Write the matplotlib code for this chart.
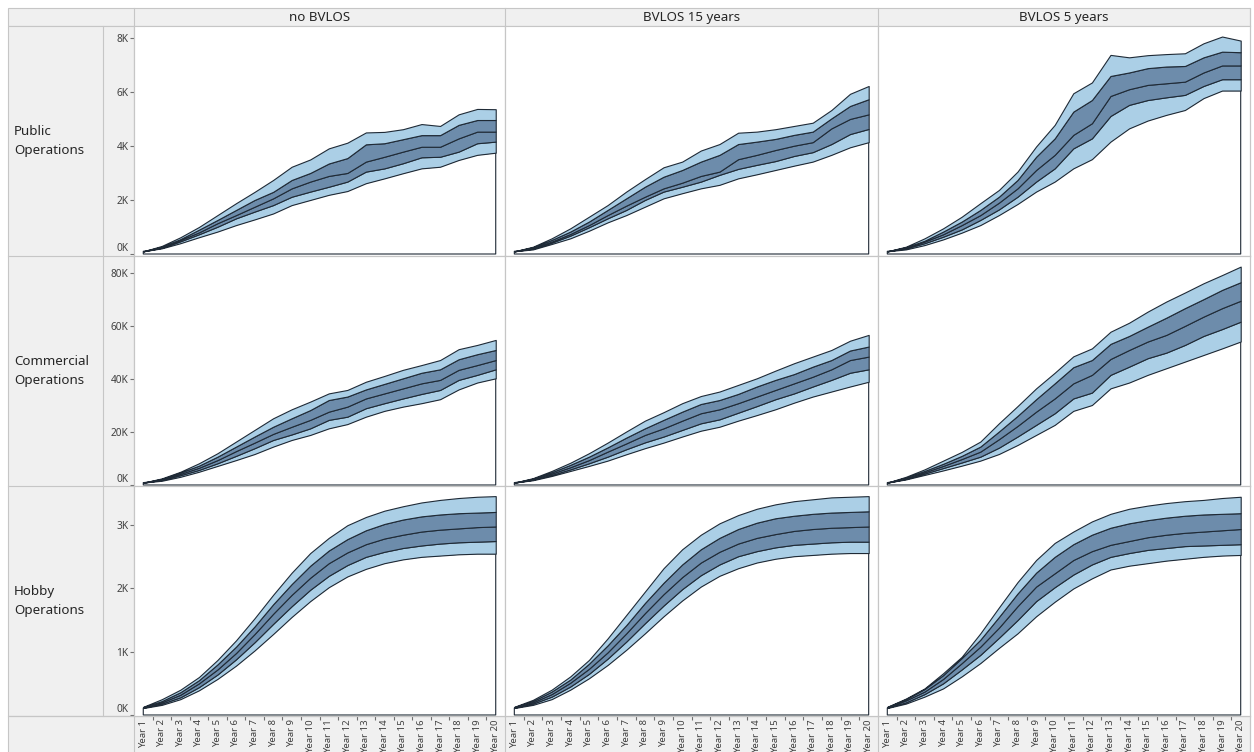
import matplotlib
matplotlib.use("Agg")
import matplotlib.pyplot as plt
from matplotlib.patches import Rectangle
from matplotlib.lines import Line2D

plt.rcParams['font.family'] = ['Noto Sans', 'DejaVu Sans']

# ---------------- data (values in thousands) ----------------
years = list(range(1, 21))
year_labels = [f"Year {y}" for y in years]
scenarios = ["no BVLOS", "BVLOS 15 years", "BVLOS 5 years"]
row_labels = ["Public\nOperations", "Commercial\nOperations", "Hobby\nOperations"]
row_ticks = [[0, 2, 4, 6, 8], [0, 20, 40, 60, 80], [0, 1, 2, 3]]

# each panel: [lower outer, lower inner, median, upper inner, upper outer]
pub_no = [
    [0.1, 0.21, 0.40, 0.62, 0.83, 1.07, 1.28, 1.50, 1.81, 2.00, 2.19, 2.33, 2.62, 2.80, 2.99, 3.17, 3.23, 3.48, 3.67, 3.75],
    [0.1, 0.23, 0.47, 0.73, 1.01, 1.32, 1.57, 1.81, 2.12, 2.31, 2.49, 2.68, 3.05, 3.17, 3.36, 3.58, 3.60, 3.79, 4.10, 4.16],
    [0.1, 0.25, 0.52, 0.80, 1.14, 1.44, 1.75, 2.06, 2.43, 2.68, 2.89, 3.00, 3.42, 3.60, 3.79, 3.97, 3.97, 4.28, 4.53, 4.53],
    [0.1, 0.27, 0.55, 0.90, 1.26, 1.63, 2.00, 2.30, 2.74, 3.00, 3.35, 3.55, 4.06, 4.10, 4.25, 4.40, 4.40, 4.78, 4.96, 4.96],
    [0.1, 0.30, 0.62, 1.00, 1.44, 1.88, 2.30, 2.74, 3.23, 3.50, 3.91, 4.12, 4.50, 4.52, 4.62, 4.81, 4.74, 5.17, 5.37, 5.36],
]
pub_15 = [
    [0.1, 0.17, 0.37, 0.58, 0.86, 1.17, 1.44, 1.75, 2.06, 2.25, 2.43, 2.56, 2.80, 2.95, 3.11, 3.27, 3.42, 3.67, 3.95, 4.14],
    [0.1, 0.20, 0.42, 0.68, 0.99, 1.32, 1.63, 2.00, 2.31, 2.49, 2.68, 2.93, 3.15, 3.30, 3.44, 3.63, 3.77, 4.07, 4.44, 4.63],
    [0.1, 0.22, 0.46, 0.74, 1.07, 1.44, 1.79, 2.12, 2.43, 2.64, 2.89, 3.05, 3.51, 3.67, 3.85, 4.01, 4.14, 4.65, 5.00, 5.17],
    [0.1, 0.25, 0.52, 0.83, 1.20, 1.63, 2.06, 2.49, 2.86, 3.11, 3.42, 3.67, 4.07, 4.16, 4.26, 4.41, 4.53, 5.02, 5.48, 5.73],
    [0.1, 0.27, 0.58, 0.95, 1.38, 1.81, 2.31, 2.77, 3.21, 3.42, 3.83, 4.07, 4.49, 4.53, 4.62, 4.74, 4.86, 5.33, 5.93, 6.22],
]
pub_5 = [
    [0.1, 0.17, 0.33, 0.54, 0.79, 1.07, 1.44, 1.85, 2.31, 2.68, 3.17, 3.51, 4.16, 4.65, 4.94, 5.15, 5.33, 5.77, 6.05, 6.05],
    [0.1, 0.21, 0.40, 0.64, 0.91, 1.26, 1.65, 2.12, 2.68, 3.17, 3.91, 4.28, 5.11, 5.52, 5.70, 5.80, 5.89, 6.22, 6.47, 6.47],
    [0.1, 0.23, 0.46, 0.73, 1.07, 1.44, 1.90, 2.43, 3.11, 3.67, 4.41, 4.84, 5.85, 6.10, 6.26, 6.32, 6.38, 6.72, 6.98, 6.98],
    [0.1, 0.25, 0.49, 0.83, 1.20, 1.63, 2.12, 2.74, 3.60, 4.28, 5.27, 5.70, 6.59, 6.72, 6.88, 6.94, 6.96, 7.28, 7.49, 7.47],
    [0.1, 0.27, 0.58, 0.95, 1.38, 1.88, 2.37, 3.05, 3.98, 4.78, 5.95, 6.35, 7.37, 7.28, 7.36, 7.40, 7.43, 7.80, 8.05, 7.90],
]
com_no = [
    [0.9, 1.6, 3.1, 5.0, 7.2, 9.4, 11.7, 14.5, 17.0, 18.9, 21.4, 23.0, 25.8, 28.0, 29.6, 30.9, 32.4, 36.1, 38.7, 40.3],
    [0.9, 1.9, 3.7, 5.7, 8.2, 11.0, 13.9, 17.0, 19.1, 21.4, 24.6, 25.8, 29.0, 30.9, 32.7, 34.4, 35.9, 39.7, 41.6, 43.7],
    [0.9, 2.0, 4.2, 6.5, 9.4, 12.8, 16.0, 19.3, 22.0, 24.6, 27.7, 29.6, 32.7, 34.6, 36.5, 38.4, 39.7, 43.5, 45.3, 47.2],
    [0.9, 2.3, 4.7, 7.3, 10.7, 14.5, 18.3, 22.0, 25.2, 28.3, 32.1, 33.4, 36.1, 38.2, 40.3, 42.4, 43.7, 47.5, 49.4, 51.0],
    [0.9, 2.5, 5.0, 8.2, 12.0, 16.4, 20.8, 25.2, 28.6, 31.5, 34.6, 35.9, 39.0, 41.2, 43.5, 45.3, 47.2, 51.3, 52.9, 54.8],
]
com_15 = [
    [0.9, 1.8, 3.4, 5.3, 7.2, 9.2, 11.6, 13.9, 16.0, 18.3, 20.5, 22.0, 24.3, 26.4, 28.6, 31.1, 33.4, 35.3, 37.2, 39.0],
    [0.9, 2.0, 3.8, 5.9, 8.2, 10.7, 13.5, 16.1, 18.3, 20.8, 23.3, 24.8, 27.3, 29.8, 32.4, 34.6, 37.2, 39.7, 42.4, 43.7],
    [0.9, 2.1, 4.3, 6.7, 9.4, 12.6, 15.7, 18.9, 21.4, 24.3, 27.1, 28.6, 30.9, 33.4, 35.9, 38.4, 40.9, 43.7, 47.2, 48.5],
    [0.9, 2.4, 4.8, 7.6, 10.7, 14.2, 17.9, 21.4, 24.6, 27.7, 30.6, 32.1, 34.4, 37.2, 39.7, 41.9, 44.7, 47.2, 50.8, 52.3],
    [0.9, 2.6, 5.3, 8.4, 12.0, 16.0, 20.2, 24.3, 27.5, 30.9, 33.6, 35.3, 37.8, 40.3, 43.2, 46.0, 48.5, 51.0, 54.5, 56.7],
]
com_5 = [
    [0.9, 2.1, 3.8, 5.5, 7.3, 9.2, 11.7, 15.1, 18.9, 22.7, 28.0, 30.2, 36.5, 38.7, 41.6, 44.1, 46.6, 49.1, 51.6, 54.2],
    [0.9, 2.3, 4.3, 6.4, 8.5, 10.7, 14.1, 18.3, 22.7, 27.1, 32.7, 34.9, 41.6, 44.7, 47.9, 50.0, 52.9, 56.3, 58.9, 61.7],
    [0.9, 2.5, 4.8, 7.2, 9.8, 12.6, 17.3, 22.3, 27.7, 32.7, 38.4, 41.6, 47.6, 51.0, 54.2, 56.7, 60.1, 63.6, 66.8, 69.6],
    [0.9, 2.8, 5.3, 8.0, 11.0, 14.5, 20.2, 26.1, 32.4, 38.4, 44.5, 47.2, 53.3, 56.3, 59.8, 63.2, 66.8, 70.2, 73.7, 76.6],
    [0.9, 3.1, 5.9, 9.2, 12.5, 16.4, 23.3, 29.8, 36.5, 42.4, 48.6, 51.6, 57.9, 61.3, 65.5, 69.3, 72.7, 76.2, 79.3, 82.5],
]
hob_no = [
    [0.11, 0.16, 0.25, 0.39, 0.57, 0.78, 1.02, 1.28, 1.55, 1.80, 2.02, 2.19, 2.31, 2.40, 2.46, 2.50, 2.52, 2.54, 2.55, 2.55],
    [0.115, 0.18, 0.28, 0.44, 0.64, 0.88, 1.15, 1.44, 1.72, 1.98, 2.20, 2.37, 2.50, 2.58, 2.64, 2.68, 2.71, 2.73, 2.74, 2.75],
    [0.12, 0.20, 0.32, 0.50, 0.72, 0.98, 1.28, 1.60, 1.90, 2.17, 2.40, 2.57, 2.70, 2.79, 2.85, 2.90, 2.93, 2.95, 2.97, 2.98],
    [0.125, 0.22, 0.36, 0.55, 0.80, 1.08, 1.40, 1.75, 2.07, 2.36, 2.60, 2.78, 2.92, 3.02, 3.09, 3.14, 3.17, 3.19, 3.20, 3.21],
    [0.13, 0.25, 0.40, 0.60, 0.87, 1.18, 1.53, 1.90, 2.25, 2.56, 2.80, 3.00, 3.13, 3.23, 3.30, 3.36, 3.40, 3.43, 3.45, 3.46],
]
hob_15 = [
    [0.11, 0.16, 0.25, 0.40, 0.58, 0.79, 1.03, 1.29, 1.56, 1.81, 2.03, 2.20, 2.32, 2.41, 2.47, 2.51, 2.53, 2.55, 2.56, 2.56],
    [0.115, 0.18, 0.29, 0.45, 0.65, 0.89, 1.16, 1.45, 1.73, 1.99, 2.21, 2.38, 2.51, 2.59, 2.65, 2.69, 2.71, 2.73, 2.74, 2.74],
    [0.12, 0.20, 0.33, 0.51, 0.73, 0.99, 1.29, 1.61, 1.91, 2.18, 2.41, 2.58, 2.71, 2.80, 2.86, 2.91, 2.94, 2.96, 2.97, 2.98],
    [0.125, 0.22, 0.37, 0.56, 0.81, 1.10, 1.42, 1.77, 2.09, 2.38, 2.62, 2.80, 2.94, 3.04, 3.11, 3.15, 3.18, 3.20, 3.21, 3.22],
    [0.13, 0.24, 0.40, 0.61, 0.87, 1.21, 1.58, 1.95, 2.32, 2.62, 2.85, 3.03, 3.16, 3.26, 3.33, 3.38, 3.41, 3.44, 3.45, 3.46],
]
hob_5 = [
    [0.11, 0.18, 0.29, 0.42, 0.61, 0.82, 1.06, 1.29, 1.56, 1.79, 2.00, 2.16, 2.30, 2.36, 2.40, 2.44, 2.47, 2.50, 2.52, 2.53],
    [0.115, 0.20, 0.33, 0.50, 0.72, 0.95, 1.22, 1.50, 1.80, 2.02, 2.22, 2.38, 2.50, 2.56, 2.61, 2.64, 2.67, 2.68, 2.69, 2.70],
    [0.12, 0.23, 0.37, 0.57, 0.82, 1.08, 1.38, 1.72, 2.03, 2.24, 2.45, 2.59, 2.69, 2.75, 2.81, 2.85, 2.88, 2.90, 2.92, 2.94],
    [0.125, 0.25, 0.41, 0.63, 0.90, 1.19, 1.55, 1.92, 2.25, 2.50, 2.70, 2.85, 2.96, 3.03, 3.08, 3.12, 3.15, 3.17, 3.18, 3.19],
    [0.13, 0.26, 0.42, 0.66, 0.92, 1.29, 1.70, 2.10, 2.45, 2.72, 2.90, 3.06, 3.18, 3.26, 3.31, 3.35, 3.38, 3.40, 3.43, 3.45],
]
panels = [[pub_no, pub_15, pub_5], [com_no, com_15, com_5], [hob_no, hob_15, hob_5]]

# ---------------- style ----------------
W, H = 1254, 752
LIGHT = "#abcfe6"
DARK = "#6d8cab"
EDGE = "#1f2a36"
GRID = "#c6c6c6"
CELL = "#f0f0f0"
TXT = "#262626"

col_x = [(134, 505), (505, 878), (878, 1250)]
row_y = [(26, 256), (256, 486), (486, 716)]
row_lim = [(-0.074, 8.44), (-0.38, 86.5), (-0.016, 3.62)]

fig = plt.figure(figsize=(W / 100, H / 100), dpi=100)
fig.patch.set_facecolor("white")


def rect(x0, y0, x1, y1, fc, ec=GRID, lw=0.8, z=0):
    fig.add_artist(Rectangle((x0 / W, 1 - y1 / H), (x1 - x0) / W, (y1 - y0) / H,
                             transform=fig.transFigure, facecolor=fc,
                             edgecolor=ec, linewidth=lw, zorder=z))


def hline(x0, x1, y):
    fig.add_artist(Line2D([x0 / W, x1 / W], [1 - y / H, 1 - y / H],
                          transform=fig.transFigure, color=GRID, lw=0.8, zorder=1))


def vline(x, y0, y1):
    fig.add_artist(Line2D([x / W, x / W], [1 - y0 / H, 1 - y1 / H],
                          transform=fig.transFigure, color=GRID, lw=0.8, zorder=1))


# gray background cells
rect(8, 8, 1250, 26, CELL)
rect(8, 26, 134, 716, CELL)
rect(8, 716, 1250, 760, CELL)
vline(103, 26, 716)
vline(134, 8, 760)
for (x0, x1) in col_x:
    vline(x1, 8, 760)
for (y0, y1) in row_y:
    hline(8, 1250, y1)

for j, name in enumerate(scenarios):
    x0, x1 = col_x[j]
    fig.text((x0 + x1) / 2 / W, 1 - 17.5 / H, name, ha="center", va="center",
             fontsize=9.6, color=TXT)

for i, lab in enumerate(row_labels):
    y0, y1 = row_y[i]
    fig.text(14 / W, 1 - (y0 + y1) / 2 / H, lab, ha="left", va="center",
             fontsize=9.6, color=TXT, linespacing=1.6)

for i in range(3):
    for j in range(3):
        x0, x1 = col_x[j]
        y0, y1 = row_y[i]
        ax = fig.add_axes([x0 / W, 1 - y1 / H, (x1 - x0) / W, (y1 - y0) / H])
        ax.set_facecolor("white")
        lo, li, md, ui, uo = panels[i][j]
        zero = [0] * len(years)
        layers = [(zero, lo, "none"), (lo, li, LIGHT), (li, md, DARK),
                  (md, ui, DARK), (ui, uo, LIGHT)]
        for k, (a, b, c) in enumerate(layers):
            ax.fill_between(years, a, b, facecolor=c, edgecolor=EDGE,
                            linewidth=0.8, zorder=2 + k)
        ax.set_xlim(0.5, 20.5)
        ax.set_ylim(*row_lim[i])
        for s in ax.spines.values():
            s.set_color(GRID)
            s.set_linewidth(0.8)
        ax.set_yticks(row_ticks[i])
        if j == 0:
            ax.set_yticklabels([f"{t}K" for t in row_ticks[i]], fontsize=7.3,
                               color="#404040")
            ax.tick_params(axis="y", direction="out", length=3, width=0.8,
                           color="#707070", pad=1)
            ax.get_yticklabels()[0].set_va("bottom")
        else:
            ax.tick_params(axis="y", left=False, labelleft=False)
        ax.set_xticks(years)
        if i == 2:
            ax.set_xticklabels(year_labels, rotation=90, fontsize=6.9,
                               color="#404040", va="top")
            ax.set_xticks([y + 0.5 for y in years[:-1]], minor=True)
            ax.tick_params(axis="x", which="major", length=0, pad=2.5)
            ax.tick_params(axis="x", which="minor", direction="out", length=3,
                           width=0.8, color="#707070")
        else:
            ax.tick_params(axis="x", bottom=False, labelbottom=False)

fig.savefig("out.png", dpi=100)
